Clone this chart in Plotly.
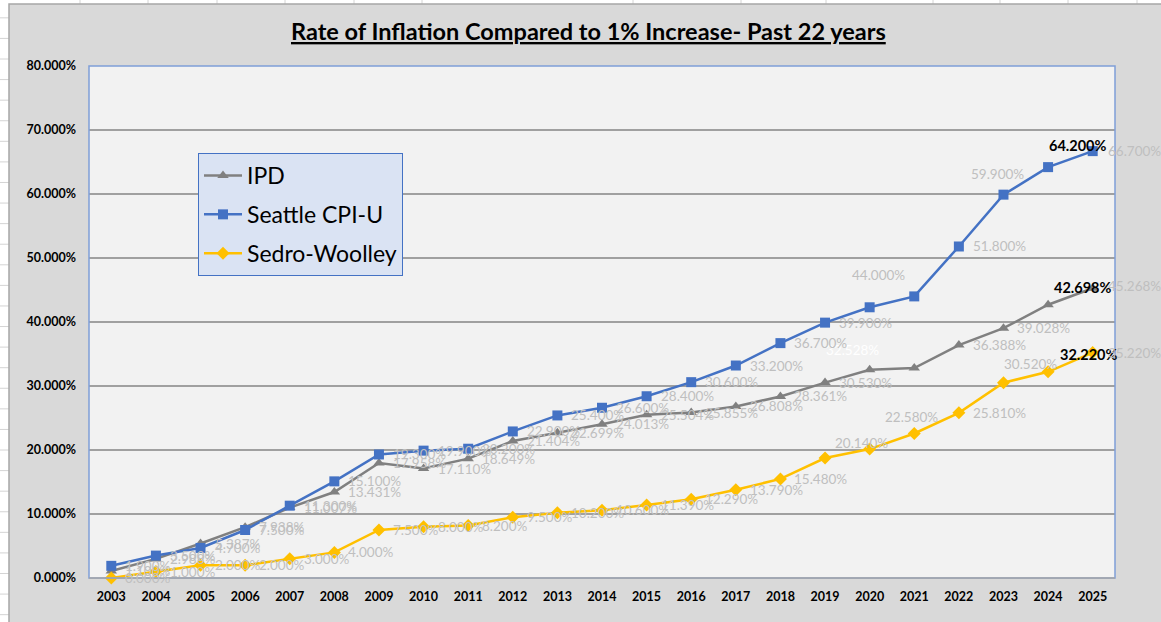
import plotly.graph_objects as go

# ---- data -------------------------------------------------------------
years = list(range(2003, 2026))

ipd = [1.100, 2.988, 5.387, 7.938, 11.007, 13.431, 17.958, 17.110, 18.649, 21.404,
       22.699, 24.013, 25.504, 25.855, 26.808, 28.361, 30.530, 32.528, 32.800,
       36.388, 39.028, 42.698, 45.268]

seattle_cpi = [1.900, 3.500, 4.700, 7.500, 11.300, 15.100, 19.300, 19.900, 20.200,
               22.900, 25.400, 26.600, 28.400, 30.600, 33.200, 36.700, 39.900,
               42.300, 44.000, 51.800, 59.900, 64.200, 66.700]

sedro_woolley = [0.000, 1.000, 2.000, 2.000, 3.000, 4.000, 7.500, 8.000, 8.200, 9.500,
                 10.200, 10.600, 11.390, 12.290, 13.790, 15.480, 18.750, 20.140,
                 22.580, 25.810, 30.520, 32.220, 35.220]

y_ticks = [0, 10, 20, 30, 40, 50, 60, 70, 80]

# ---- page geometry (pixels) --------------------------------------------
W, H = 1161, 622
PL, PR, PT, PB = 89, 1115, 66, 578          # plot area edges
PW, PH = PR - PL, PB - PT


def px(x):
    return (x - PL) / PW


def py(y):
    return (PB - y) / PH


FONT = "Lato"
LABEL_GRAY = "#bfbfbf"
DEFAULT_LABEL = ("left", 12, 0)             # (xanchor, xshift, yshift)

series = [
    dict(name="IPD", values=ipd, color="#808080", symbol="triangle-up",
         hidden={2021}, bold={2024},
         place={2020: ("center", -17, 20), 2024: ("left", 4, 17), 2025: ("left", 13, 2)},
         tcol={2020: "#ffffff", 2024: "#000000"}),
    dict(name="Seattle CPI-U", values=seattle_cpi, color="#4472c4", symbol="square",
         hidden={2020}, bold={2024},
         place={2021: ("right", -7, 21), 2023: ("center", -6, 21),
                2024: ("left", -1, 22), 2025: ("left", 13, 0)},
         tcol={2024: "#000000"}),
    dict(name="Sedro-Woolley", values=sedro_woolley, color="#ffc000", symbol="diamond",
         hidden={2019}, bold={2024},
         place={2020: ("center", -8, 6), 2021: ("center", -3, 16),
                2023: ("left", -1, 19), 2024: ("left", 10, 17), 2025: ("left", 13, 0)},
         tcol={2024: "#000000"}),
]

fig = go.Figure()
annotations = []
for i, s in enumerate(series):
    fig.add_trace(go.Scatter(
        x=years, y=s["values"], name=s["name"], legendgroup=f"g{i}",
        mode="lines+markers",
        line=dict(color=s["color"], width=2.5),
        marker=dict(symbol=s["symbol"], size=10, color=s["color"]),
        cliponaxis=False,
    ))
    # value labels for each point
    for yr, v in zip(years, s["values"]):
        if yr in s["hidden"]:
            continue
        anchor, dx, dy = s["place"].get(yr, DEFAULT_LABEL)
        is_bold = yr in s["bold"]
        annotations.append(dict(
            x=yr, y=v, xref="x", yref="y", showarrow=False,
            text=f"<b>{v:.3f}%</b>" if is_bold else f"{v:.3f}%",
            xanchor=anchor, yanchor="middle", xshift=dx, yshift=dy,
            font=dict(family=FONT, size=14.5 if is_bold else 13.5,
                      color=s["tcol"].get(yr, LABEL_GRAY)),
        ))

annotations.append(dict(
    xref="paper", yref="paper", x=px(588), y=py(31),
    xanchor="center", yanchor="middle", showarrow=False,
    text="<b><u>Rate of Inflation Compared to 1% Increase- Past 22 years</u></b>",
    font=dict(family=FONT, size=23.5, color="#000000"),
))

shapes = []
# spreadsheet cell lines around the chart object
for y in [59 + 20.58 * k for k in range(-2, 28)]:
    shapes.append(dict(type="line", xref="paper", yref="paper", layer="below",
                       x0=px(0), x1=px(9), y0=py(y), y1=py(y),
                       line=dict(color="#d4d4d4", width=1)))
for x in [80, 148, 217, 285, 354, 422, 633, 741, 826, 933, 1000, 1068, 1137]:
    shapes.append(dict(type="line", xref="paper", yref="paper", layer="below",
                       x0=px(x), x1=px(x), y0=py(0), y1=py(4),
                       line=dict(color="#d4d4d4", width=1)))
# chart area
shapes.append(dict(type="rect", xref="paper", yref="paper", layer="below",
                   x0=px(9), x1=px(1175), y0=py(635), y1=py(4),
                   fillcolor="#d9d9d9", line=dict(color="#a6a6a6", width=1.5)))
# plot area fill
shapes.append(dict(type="rect", xref="paper", yref="paper", layer="below",
                   x0=0, x1=1, y0=0, y1=1, fillcolor="#f2f2f2", line=dict(width=0)))
# plot area border
shapes.append(dict(type="rect", xref="paper", yref="paper", layer="above",
                   x0=0, x1=1, y0=0, y1=1, fillcolor="rgba(0,0,0,0)",
                   line=dict(color="#7f9ed8", width=1.5)))
shapes.append(dict(type="line", xref="paper", yref="paper", layer="above",
                   x0=0, x1=1, y0=0, y1=0, line=dict(color="#a6a6a6", width=1.5)))

fig.update_layout(
    width=W, height=H,
    margin=dict(l=PL, r=W - PR, t=PT, b=H - PB, pad=0),
    paper_bgcolor="#ffffff",
    plot_bgcolor="#f2f2f2",
    font=dict(family=FONT, color="#000000"),
    shapes=shapes,
    annotations=annotations,
    showlegend=True,
    legend=dict(
        x=px(198), y=py(153), xanchor="left", yanchor="top",
        bgcolor="#dae3f3", bordercolor="#4472c4", borderwidth=1,
        font=dict(family=FONT, size=23, color="#000000"),
        tracegroupgap=6, traceorder="grouped", itemwidth=38,
        entrywidth=200,
    ),
)

fig.update_xaxes(
    range=[2002.5, 2025.5], tickmode="array", tickvals=years,
    ticktext=[str(y) for y in years], showgrid=False, zeroline=False,
    showline=False, ticks="", ticklabelstandoff=9,
    tickfont=dict(family=FONT, size=12.5, color="#000000", weight="bold"),
)
fig.update_yaxes(
    range=[0, 80], tickmode="array", tickvals=y_ticks,
    ticktext=[f"{t:.3f}%" for t in y_ticks],
    showgrid=True, gridcolor="#a0a0a0", gridwidth=1.5, zeroline=False,
    showline=False, ticks="", ticklabelstandoff=12,
    tickfont=dict(family=FONT, size=12.5, color="#000000", weight="bold"),
)

fig.write_html("out.html")
